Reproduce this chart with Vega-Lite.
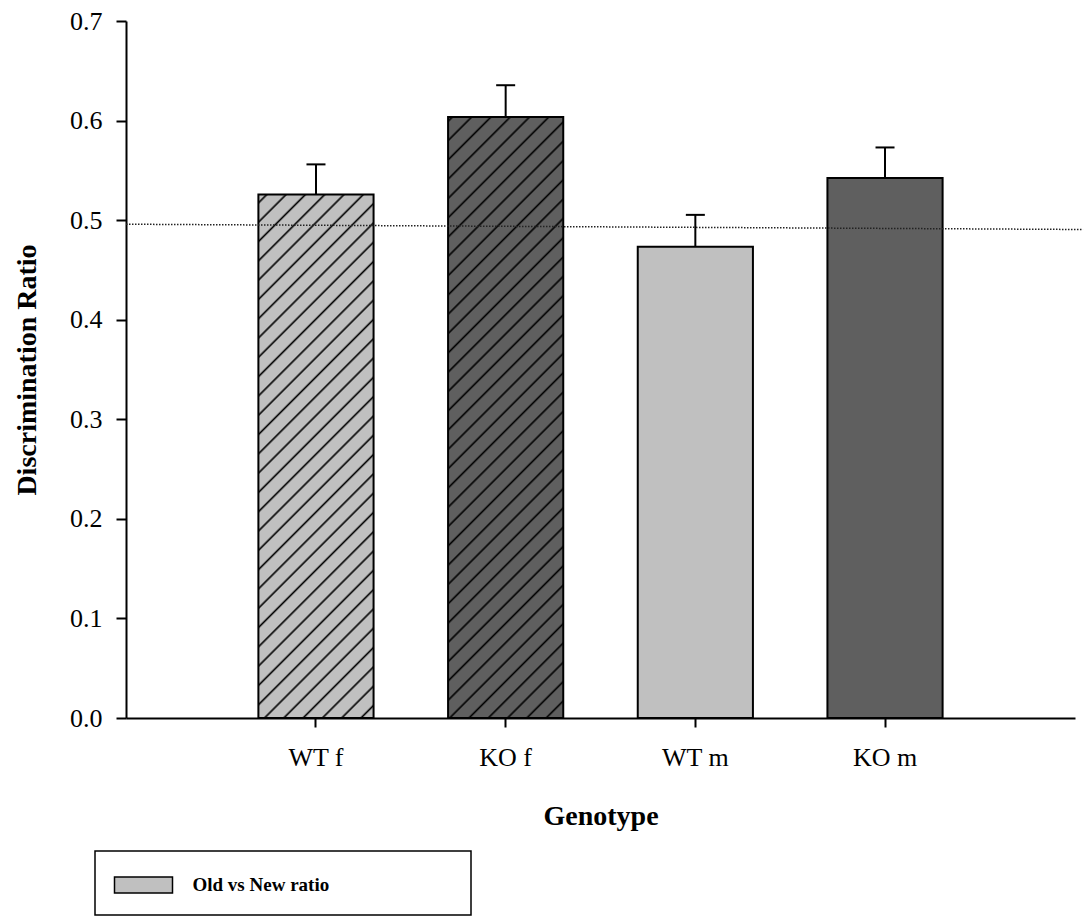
{
  "$schema": "https://vega.github.io/schema/vega-lite/v6.json",
  "autosize": {"type": "none"},
  "padding": {"left": 126, "top": 21, "right": 11, "bottom": 201},
  "width": 949,
  "height": 697,
  "background": "white",
  "config": {
    "font": "Liberation Serif",
    "view": {"stroke": null},
    "axis": {"labelColor": "black", "titleColor": "black", "domainColor": "black", "tickColor": "black", "domainWidth": 2, "tickWidth": 2, "grid": false, "labelFont": "Liberation Serif", "titleFont": "Liberation Serif"}
  },
  "datasets": {
    "bars": [
      {"genotype": "WT f", "ratio": 0.5257, "upper": 0.556},
      {"genotype": "KO f", "ratio": 0.6037, "upper": 0.6355},
      {"genotype": "WT m", "ratio": 0.4732, "upper": 0.5053},
      {"genotype": "KO m", "ratio": 0.5424, "upper": 0.573}
    ],
    "refline": [
      {"px": 0, "ref": 0.4959},
      {"px": 1, "ref": 0.4906}
    ]
  },
  "resolve": {"scale": {"x": "independent"}, "axis": {"x": "independent"}},
  "layer": [
    {
      "data": {"name": "bars"},
      "encoding": {
        "x": {"field": "genotype", "type": "nominal", "title": "Genotype",
          "scale": {"domain": ["WT f", "KO f", "WT m", "KO m"], "paddingInner": 0.3928, "paddingOuter": 0.698},
          "axis": {"labelAngle": 0, "labelFontSize": 26, "labelPadding": 17, "tickSize": 9, "titleFontSize": 28, "titleFontWeight": "bold", "titlePadding": 32}},
        "y": {"field": "ratio", "type": "quantitative", "title": "Discrimination Ratio",
          "scale": {"domain": [0, 0.7], "nice": false, "zero": true},
          "axis": {"values": [0, 0.1, 0.2, 0.3, 0.4, 0.5, 0.6, 0.7], "format": ".1f", "labelFontSize": 26, "labelPadding": 14, "tickSize": 10, "titleFontSize": 28, "titleFontWeight": "bold", "titlePadding": 28}}
      },
      "layer": [
        {
          "transform": [{"filter": "datum.genotype === 'WT f'"}],
          "mark": {"type": "bar", "fill": "#c0c0c0", "strokeWidth": 0}
        },
        {
          "transform": [{"filter": "datum.genotype === 'WT f'"}],
          "mark": {"type": "bar", "strokeWidth": 0, "fill": {"gradient": "linear", "x1": 0, "y1": 0, "x2": 0.08503, "y2": 0.38633, "stops": [
            {"offset": 0, "color": "rgba(0,0,0,0)"},
            {"offset": 0.0288, "color": "rgba(0,0,0,0)"}, {"offset": 0.0396, "color": "#000"}, {"offset": 0.0505, "color": "rgba(0,0,0,0)"},
            {"offset": 0.1198, "color": "rgba(0,0,0,0)"}, {"offset": 0.1307, "color": "#000"}, {"offset": 0.1415, "color": "rgba(0,0,0,0)"},
            {"offset": 0.2109, "color": "rgba(0,0,0,0)"}, {"offset": 0.2217, "color": "#000"}, {"offset": 0.2326, "color": "rgba(0,0,0,0)"},
            {"offset": 0.3019, "color": "rgba(0,0,0,0)"}, {"offset": 0.3127, "color": "#000"}, {"offset": 0.3236, "color": "rgba(0,0,0,0)"},
            {"offset": 0.3929, "color": "rgba(0,0,0,0)"}, {"offset": 0.4038, "color": "#000"}, {"offset": 0.4146, "color": "rgba(0,0,0,0)"},
            {"offset": 0.4840, "color": "rgba(0,0,0,0)"}, {"offset": 0.4948, "color": "#000"}, {"offset": 0.5057, "color": "rgba(0,0,0,0)"},
            {"offset": 0.5750, "color": "rgba(0,0,0,0)"}, {"offset": 0.5859, "color": "#000"}, {"offset": 0.5967, "color": "rgba(0,0,0,0)"},
            {"offset": 0.6660, "color": "rgba(0,0,0,0)"}, {"offset": 0.6769, "color": "#000"}, {"offset": 0.6877, "color": "rgba(0,0,0,0)"},
            {"offset": 0.7571, "color": "rgba(0,0,0,0)"}, {"offset": 0.7679, "color": "#000"}, {"offset": 0.7788, "color": "rgba(0,0,0,0)"},
            {"offset": 0.8481, "color": "rgba(0,0,0,0)"}, {"offset": 0.8590, "color": "#000"}, {"offset": 0.8698, "color": "rgba(0,0,0,0)"},
            {"offset": 0.9392, "color": "rgba(0,0,0,0)"}, {"offset": 0.9500, "color": "#000"}, {"offset": 0.9609, "color": "rgba(0,0,0,0)"},
            {"offset": 1, "color": "rgba(0,0,0,0)"}
          ]}}
        },
        {
          "transform": [{"filter": "datum.genotype === 'WT f'"}],
          "mark": {"type": "bar", "strokeWidth": 0, "fill": {"gradient": "linear", "x1": 0.08503, "y1": 0.38633, "x2": 0.17046, "y2": 0.77448, "stops": [
            {"offset": 0, "color": "rgba(0,0,0,0)"},
            {"offset": 0.0301, "color": "rgba(0,0,0,0)"}, {"offset": 0.0409, "color": "#000"}, {"offset": 0.0516, "color": "rgba(0,0,0,0)"},
            {"offset": 0.1207, "color": "rgba(0,0,0,0)"}, {"offset": 0.1315, "color": "#000"}, {"offset": 0.1423, "color": "rgba(0,0,0,0)"},
            {"offset": 0.2113, "color": "rgba(0,0,0,0)"}, {"offset": 0.2221, "color": "#000"}, {"offset": 0.2329, "color": "rgba(0,0,0,0)"},
            {"offset": 0.3019, "color": "rgba(0,0,0,0)"}, {"offset": 0.3127, "color": "#000"}, {"offset": 0.3235, "color": "rgba(0,0,0,0)"},
            {"offset": 0.3925, "color": "rgba(0,0,0,0)"}, {"offset": 0.4033, "color": "#000"}, {"offset": 0.4141, "color": "rgba(0,0,0,0)"},
            {"offset": 0.4831, "color": "rgba(0,0,0,0)"}, {"offset": 0.4939, "color": "#000"}, {"offset": 0.5047, "color": "rgba(0,0,0,0)"},
            {"offset": 0.5737, "color": "rgba(0,0,0,0)"}, {"offset": 0.5845, "color": "#000"}, {"offset": 0.5953, "color": "rgba(0,0,0,0)"},
            {"offset": 0.6643, "color": "rgba(0,0,0,0)"}, {"offset": 0.6751, "color": "#000"}, {"offset": 0.6859, "color": "rgba(0,0,0,0)"},
            {"offset": 0.7549, "color": "rgba(0,0,0,0)"}, {"offset": 0.7657, "color": "#000"}, {"offset": 0.7765, "color": "rgba(0,0,0,0)"},
            {"offset": 0.8455, "color": "rgba(0,0,0,0)"}, {"offset": 0.8563, "color": "#000"}, {"offset": 0.8671, "color": "rgba(0,0,0,0)"},
            {"offset": 0.9362, "color": "rgba(0,0,0,0)"}, {"offset": 0.9470, "color": "#000"}, {"offset": 0.9578, "color": "rgba(0,0,0,0)"},
            {"offset": 1, "color": "rgba(0,0,0,0)"}
          ]}}
        },
        {
          "transform": [{"filter": "datum.genotype === 'WT f'"}],
          "mark": {"type": "bar", "stroke": "black", "strokeWidth": 2, "fill": {"gradient": "linear", "x1": 0.17046, "y1": 0.77448, "x2": 0.2567, "y2": 1.16627, "stops": [
            {"offset": 0, "color": "rgba(0,0,0,0)"},
            {"offset": 0.0265, "color": "rgba(0,0,0,0)"}, {"offset": 0.0372, "color": "#000"}, {"offset": 0.0479, "color": "rgba(0,0,0,0)"},
            {"offset": 0.1163, "color": "rgba(0,0,0,0)"}, {"offset": 0.1270, "color": "#000"}, {"offset": 0.1377, "color": "rgba(0,0,0,0)"},
            {"offset": 0.2061, "color": "rgba(0,0,0,0)"}, {"offset": 0.2167, "color": "#000"}, {"offset": 0.2274, "color": "rgba(0,0,0,0)"},
            {"offset": 0.2958, "color": "rgba(0,0,0,0)"}, {"offset": 0.3065, "color": "#000"}, {"offset": 0.3172, "color": "rgba(0,0,0,0)"},
            {"offset": 0.3856, "color": "rgba(0,0,0,0)"}, {"offset": 0.3963, "color": "#000"}, {"offset": 0.4070, "color": "rgba(0,0,0,0)"},
            {"offset": 0.4754, "color": "rgba(0,0,0,0)"}, {"offset": 0.4861, "color": "#000"}, {"offset": 0.4967, "color": "rgba(0,0,0,0)"},
            {"offset": 0.5651, "color": "rgba(0,0,0,0)"}, {"offset": 0.5758, "color": "#000"}, {"offset": 0.5865, "color": "rgba(0,0,0,0)"},
            {"offset": 0.6549, "color": "rgba(0,0,0,0)"}, {"offset": 0.6656, "color": "#000"}, {"offset": 0.6763, "color": "rgba(0,0,0,0)"},
            {"offset": 0.7447, "color": "rgba(0,0,0,0)"}, {"offset": 0.7554, "color": "#000"}, {"offset": 0.7661, "color": "rgba(0,0,0,0)"},
            {"offset": 0.8344, "color": "rgba(0,0,0,0)"}, {"offset": 0.8451, "color": "#000"}, {"offset": 0.8558, "color": "rgba(0,0,0,0)"},
            {"offset": 0.9242, "color": "rgba(0,0,0,0)"}, {"offset": 0.9349, "color": "#000"}, {"offset": 0.9456, "color": "rgba(0,0,0,0)"},
            {"offset": 1, "color": "rgba(0,0,0,0)"}
          ]}}
        },
        {
          "transform": [{"filter": "datum.genotype === 'KO f'"}],
          "mark": {"type": "bar", "fill": "#5f5f5f", "strokeWidth": 0}
        },
        {
          "transform": [{"filter": "datum.genotype === 'KO f'"}],
          "mark": {"type": "bar", "strokeWidth": 0, "fill": {"gradient": "linear", "x1": 0, "y1": 0, "x2": 0.07535, "y2": 0.39315, "stops": [
            {"offset": 0, "color": "rgba(0,0,0,0)"},
            {"offset": 0.0086, "color": "rgba(0,0,0,0)"}, {"offset": 0.0180, "color": "#000"}, {"offset": 0.0274, "color": "rgba(0,0,0,0)"},
            {"offset": 0.0874, "color": "rgba(0,0,0,0)"}, {"offset": 0.0967, "color": "#000"}, {"offset": 0.1061, "color": "rgba(0,0,0,0)"},
            {"offset": 0.1661, "color": "rgba(0,0,0,0)"}, {"offset": 0.1755, "color": "#000"}, {"offset": 0.1849, "color": "rgba(0,0,0,0)"},
            {"offset": 0.2449, "color": "rgba(0,0,0,0)"}, {"offset": 0.2543, "color": "#000"}, {"offset": 0.2637, "color": "rgba(0,0,0,0)"},
            {"offset": 0.3237, "color": "rgba(0,0,0,0)"}, {"offset": 0.3331, "color": "#000"}, {"offset": 0.3425, "color": "rgba(0,0,0,0)"},
            {"offset": 0.4025, "color": "rgba(0,0,0,0)"}, {"offset": 0.4118, "color": "#000"}, {"offset": 0.4212, "color": "rgba(0,0,0,0)"},
            {"offset": 0.4812, "color": "rgba(0,0,0,0)"}, {"offset": 0.4906, "color": "#000"}, {"offset": 0.5000, "color": "rgba(0,0,0,0)"},
            {"offset": 0.5600, "color": "rgba(0,0,0,0)"}, {"offset": 0.5694, "color": "#000"}, {"offset": 0.5788, "color": "rgba(0,0,0,0)"},
            {"offset": 0.6388, "color": "rgba(0,0,0,0)"}, {"offset": 0.6482, "color": "#000"}, {"offset": 0.6576, "color": "rgba(0,0,0,0)"},
            {"offset": 0.7176, "color": "rgba(0,0,0,0)"}, {"offset": 0.7269, "color": "#000"}, {"offset": 0.7363, "color": "rgba(0,0,0,0)"},
            {"offset": 0.7963, "color": "rgba(0,0,0,0)"}, {"offset": 0.8057, "color": "#000"}, {"offset": 0.8151, "color": "rgba(0,0,0,0)"},
            {"offset": 0.8751, "color": "rgba(0,0,0,0)"}, {"offset": 0.8845, "color": "#000"}, {"offset": 0.8939, "color": "rgba(0,0,0,0)"},
            {"offset": 0.9539, "color": "rgba(0,0,0,0)"}, {"offset": 0.9633, "color": "#000"}, {"offset": 0.9727, "color": "rgba(0,0,0,0)"},
            {"offset": 1, "color": "rgba(0,0,0,0)"}
          ]}}
        },
        {
          "transform": [{"filter": "datum.genotype === 'KO f'"}],
          "mark": {"type": "bar", "strokeWidth": 0, "fill": {"gradient": "linear", "x1": 0.07535, "y1": 0.39315, "x2": 0.14762, "y2": 0.77025, "stops": [
            {"offset": 0, "color": "rgba(0,0,0,0)"},
            {"offset": 0.0340, "color": "rgba(0,0,0,0)"}, {"offset": 0.0438, "color": "#000"}, {"offset": 0.0536, "color": "rgba(0,0,0,0)"},
            {"offset": 0.1162, "color": "rgba(0,0,0,0)"}, {"offset": 0.1260, "color": "#000"}, {"offset": 0.1357, "color": "rgba(0,0,0,0)"},
            {"offset": 0.1983, "color": "rgba(0,0,0,0)"}, {"offset": 0.2081, "color": "#000"}, {"offset": 0.2179, "color": "rgba(0,0,0,0)"},
            {"offset": 0.2804, "color": "rgba(0,0,0,0)"}, {"offset": 0.2902, "color": "#000"}, {"offset": 0.3000, "color": "rgba(0,0,0,0)"},
            {"offset": 0.3626, "color": "rgba(0,0,0,0)"}, {"offset": 0.3723, "color": "#000"}, {"offset": 0.3821, "color": "rgba(0,0,0,0)"},
            {"offset": 0.4447, "color": "rgba(0,0,0,0)"}, {"offset": 0.4545, "color": "#000"}, {"offset": 0.4643, "color": "rgba(0,0,0,0)"},
            {"offset": 0.5268, "color": "rgba(0,0,0,0)"}, {"offset": 0.5366, "color": "#000"}, {"offset": 0.5464, "color": "rgba(0,0,0,0)"},
            {"offset": 0.6089, "color": "rgba(0,0,0,0)"}, {"offset": 0.6187, "color": "#000"}, {"offset": 0.6285, "color": "rgba(0,0,0,0)"},
            {"offset": 0.6911, "color": "rgba(0,0,0,0)"}, {"offset": 0.7009, "color": "#000"}, {"offset": 0.7106, "color": "rgba(0,0,0,0)"},
            {"offset": 0.7732, "color": "rgba(0,0,0,0)"}, {"offset": 0.7830, "color": "#000"}, {"offset": 0.7928, "color": "rgba(0,0,0,0)"},
            {"offset": 0.8553, "color": "rgba(0,0,0,0)"}, {"offset": 0.8651, "color": "#000"}, {"offset": 0.8749, "color": "rgba(0,0,0,0)"},
            {"offset": 0.9375, "color": "rgba(0,0,0,0)"}, {"offset": 0.9472, "color": "#000"}, {"offset": 0.9570, "color": "rgba(0,0,0,0)"},
            {"offset": 1, "color": "rgba(0,0,0,0)"}
          ]}}
        },
        {
          "transform": [{"filter": "datum.genotype === 'KO f'"}],
          "mark": {"type": "bar", "stroke": "black", "strokeWidth": 2, "fill": {"gradient": "linear", "x1": 0.14762, "y1": 0.77025, "x2": 0.22143, "y2": 1.15537, "stops": [
            {"offset": 0, "color": "rgba(0,0,0,0)"},
            {"offset": 0.0192, "color": "rgba(0,0,0,0)"}, {"offset": 0.0288, "color": "#000"}, {"offset": 0.0383, "color": "rgba(0,0,0,0)"},
            {"offset": 0.0996, "color": "rgba(0,0,0,0)"}, {"offset": 0.1092, "color": "#000"}, {"offset": 0.1188, "color": "rgba(0,0,0,0)"},
            {"offset": 0.1800, "color": "rgba(0,0,0,0)"}, {"offset": 0.1896, "color": "#000"}, {"offset": 0.1992, "color": "rgba(0,0,0,0)"},
            {"offset": 0.2604, "color": "rgba(0,0,0,0)"}, {"offset": 0.2700, "color": "#000"}, {"offset": 0.2796, "color": "rgba(0,0,0,0)"},
            {"offset": 0.3408, "color": "rgba(0,0,0,0)"}, {"offset": 0.3504, "color": "#000"}, {"offset": 0.3600, "color": "rgba(0,0,0,0)"},
            {"offset": 0.4213, "color": "rgba(0,0,0,0)"}, {"offset": 0.4308, "color": "#000"}, {"offset": 0.4404, "color": "rgba(0,0,0,0)"},
            {"offset": 0.5017, "color": "rgba(0,0,0,0)"}, {"offset": 0.5113, "color": "#000"}, {"offset": 0.5208, "color": "rgba(0,0,0,0)"},
            {"offset": 0.5821, "color": "rgba(0,0,0,0)"}, {"offset": 0.5917, "color": "#000"}, {"offset": 0.6013, "color": "rgba(0,0,0,0)"},
            {"offset": 0.6625, "color": "rgba(0,0,0,0)"}, {"offset": 0.6721, "color": "#000"}, {"offset": 0.6817, "color": "rgba(0,0,0,0)"},
            {"offset": 0.7429, "color": "rgba(0,0,0,0)"}, {"offset": 0.7525, "color": "#000"}, {"offset": 0.7621, "color": "rgba(0,0,0,0)"},
            {"offset": 0.8233, "color": "rgba(0,0,0,0)"}, {"offset": 0.8329, "color": "#000"}, {"offset": 0.8425, "color": "rgba(0,0,0,0)"},
            {"offset": 0.9038, "color": "rgba(0,0,0,0)"}, {"offset": 0.9133, "color": "#000"}, {"offset": 0.9229, "color": "rgba(0,0,0,0)"},
            {"offset": 1, "color": "rgba(0,0,0,0)"}
          ]}}
        },
        {
          "transform": [{"filter": "datum.genotype === 'WT m'"}],
          "mark": {"type": "bar", "stroke": "black", "strokeWidth": 2},
          "encoding": {
            "fill": {"datum": "Old vs New ratio", "type": "nominal",
              "scale": {"range": ["#c0c0c0"]},
              "legend": {
                "orient": "none", "legendX": -31, "legendY": 830, "title": null,
                "symbolType": "M-1,-0.552H3V0.552H-1Z", "symbolSize": 841,
                "symbolStrokeColor": "black", "symbolStrokeWidth": 1.5, "symbolOpacity": 1,
                "labelFont": "Liberation Serif", "labelFontSize": 19, "labelFontWeight": "bold", "labelColor": "black",
                "labelOffset": 48, "labelLimit": 600,
                "labelExpr": "datum.label + '\u00a0\u00a0\u00a0\u00a0\u00a0\u00a0\u00a0\u00a0\u00a0\u00a0\u00a0\u00a0\u00a0\u00a0\u00a0\u00a0\u00a0\u00a0\u00a0\u00a0\u00a0\u00a0\u00a0\u2800'",
                "padding": 18.5, "strokeColor": "black",
                "encode": {"legend": {"update": {"strokeWidth": {"value": 1.5}}}}
              }}
          }
        },
        {
          "transform": [{"filter": "datum.genotype === 'KO m'"}],
          "mark": {"type": "bar", "stroke": "black", "strokeWidth": 2, "fill": "#5f5f5f"}
        },
        {
          "mark": {"type": "rule", "color": "black", "strokeWidth": 2},
          "encoding": {"y2": {"field": "upper"}}
        },
        {
          "mark": {"type": "tick", "color": "black", "size": 19, "thickness": 2, "opacity": 1},
          "encoding": {"y": {"field": "upper", "type": "quantitative", "title": "Discrimination Ratio"}}
        }
      ]
    },
    {
      "data": {"name": "refline"},
      "mark": {"type": "line", "color": "#222222", "strokeWidth": 1.5, "strokeDash": [1.5, 1.5]},
      "encoding": {
        "x": {"field": "px", "type": "quantitative", "scale": {"domain": [0, 0.9916], "nice": false, "zero": false}, "axis": null},
        "y": {"field": "ref", "type": "quantitative", "title": "Discrimination Ratio"}
      }
    }
  ]
}
